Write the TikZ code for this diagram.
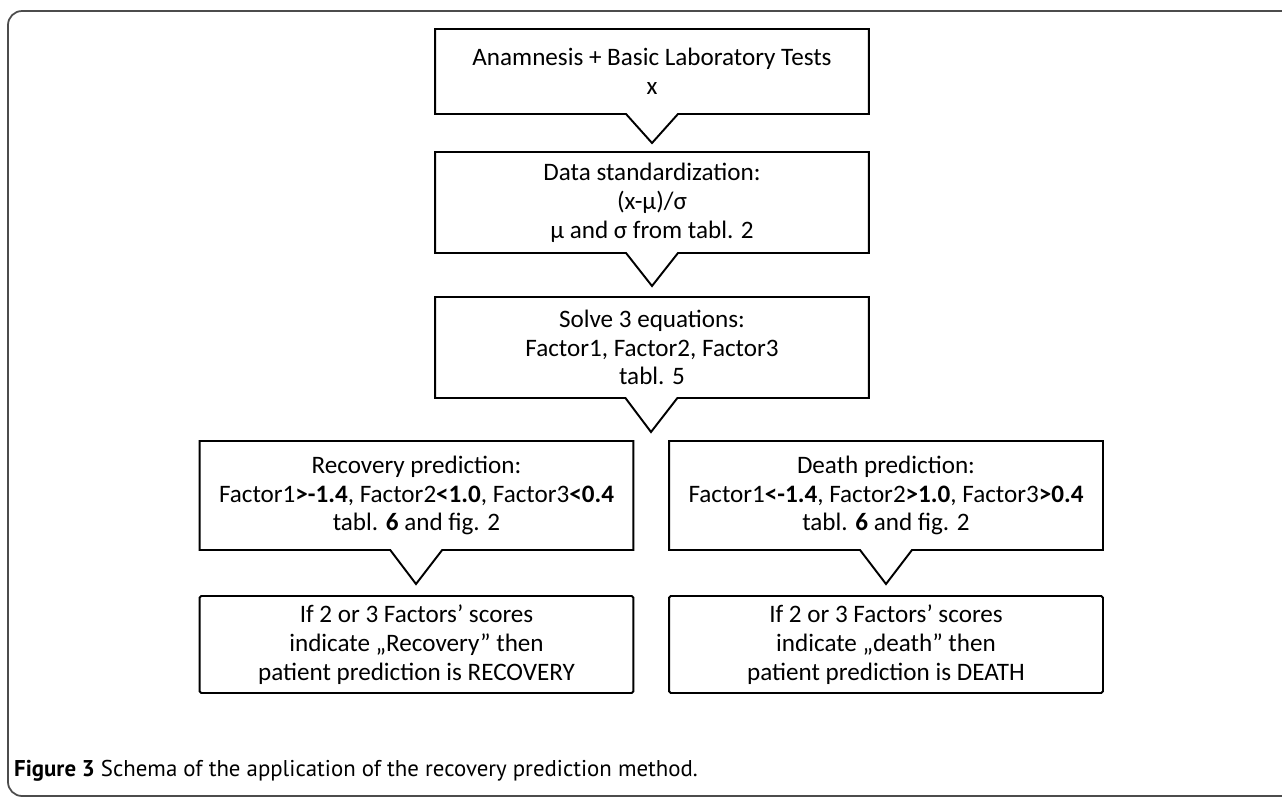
\documentclass[tikz,border=0pt]{standalone}
\usepackage{fontspec}
\setmainfont{Carlito}
\newfontfamily\capfont{PT Sans}
\usetikzlibrary{shapes.callouts}

\tikzset{
  stepbox/.style={rectangle callout, draw, line width=1.1pt, align=center,
    inner sep=0pt, minimum width=8.68cm, callout pointer width=1.04cm,
    font=\fontsize{14.3}{16.4}\selectfont},
  endbox/.style={rectangle, draw, line width=1.1pt, rounded corners=1pt,
    align=center, inner sep=0pt, minimum width=8.68cm, minimum height=1.94cm,
    font=\fontsize{14.3}{16.4}\selectfont},
  frameline/.style={draw=black!70, line width=1pt, rounded corners=8pt}
}

\begin{document}
\begin{tikzpicture}[x=0.02cm,y=-0.02cm]
\useasboundingbox (0,0) rectangle (1282,798);

\draw[frameline] (1300,11) -- (8,11) -- (8,796) -- (1300,796);

\node[stepbox, minimum height=1.7cm, callout absolute pointer={(652,143)}] (anamnesis) at (652,71.5)
  {Anamnesis + Basic Laboratory Tests\\x};
\node[stepbox, minimum height=2.02cm, callout absolute pointer={(652,286)}] (standard) at (652,202.5)
  {Data standardization:\\(x-μ)/σ\\μ and σ from tabl. 2};
\node[stepbox, minimum height=2.02cm, callout absolute pointer={(651,432)}] (solve) at (652,347.5)
  {Solve 3 equations:\\Factor1, Factor2, Factor3\\tabl. 5};

\node[stepbox, minimum height=2.18cm, callout absolute pointer={(416,584)}] (recpred) at (416.5,495.5)
  {Recovery prediction:\\Factor1\textbf{>-1.4}, Factor2\textbf{<1.0}, Factor3\textbf{<0.4}\\tabl. \textbf{6} and fig. 2};
\node[stepbox, minimum height=2.18cm, callout absolute pointer={(886,584)}] (deathpred) at (886,495.5)
  {Death prediction:\\Factor1\textbf{<-1.4}, Factor2\textbf{>1.0}, Factor3\textbf{>0.4}\\tabl. \textbf{6} and fig. 2};

\node[endbox] (recres) at (416.5,644.5)
  {If 2 or 3 Factors’ scores\\indicate „Recovery” then\\patient prediction is RECOVERY};
\node[endbox] (deathres) at (886,644.5)
  {If 2 or 3 Factors’ scores\\indicate „death” then\\patient prediction is DEATH};

\node[anchor=west, font=\capfont\fontsize{13}{15}\selectfont] (caption) at (8,771)
  {\textbf{Figure 3} Schema of the application of the recovery prediction method.};
\end{tikzpicture}
\end{document}
